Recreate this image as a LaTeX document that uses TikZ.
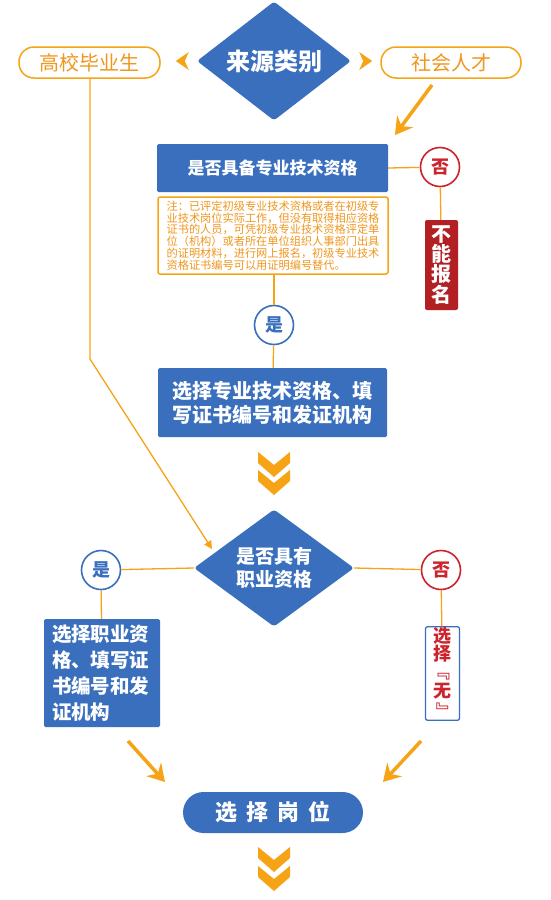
\documentclass[tikz,border=0pt]{standalone}
\usepackage{fontspec}
\setmainfont{Noto Sans CJK SC}
\usetikzlibrary{shapes.geometric,arrows.meta}
\definecolor{bl}{RGB}{58,111,190}
\definecolor{og}{RGB}{246,163,22}
\definecolor{ogt}{RGB}{240,150,30}
\definecolor{rd}{RGB}{205,35,45}
\definecolor{drd}{RGB}{178,32,36}
\begin{document}
\begin{tikzpicture}[x=1pt,y=-1pt,
  dia/.style={diamond,fill=bl,text=white,inner sep=0pt,rounded corners=3pt,align=center},
  pill/.style={draw=og,line width=1.5pt,fill=white,rounded corners=15pt,minimum height=31pt,text=ogt,font=\fontsize{20}{24}\selectfont},
  bbox/.style={fill=bl,text=white,rounded corners=1.5pt,inner sep=0pt},
  circ/.style={circle,draw,line width=1.6pt,fill=white,minimum size=39pt,inner sep=0pt,font=\fontsize{18}{20}\selectfont\bfseries},
  thinline/.style={draw=og,line width=1.3pt},
  thickarrow/.style={draw=og,line width=3.5pt,-{Stealth[length=17pt,width=20pt,inset=6pt]}},
  chev/.pic={\fill[og] (-16,0) -- (0,13) -- (16,0) -- (16,11) -- (0,25) -- (-16,11) -- cycle;}
]
\useasboundingbox (0,0) rectangle (550,900);
\fill[white] (0,0) rectangle (550,900);

% top row
\node[dia,minimum width=154pt,minimum height=108pt,font=\fontsize{24}{26}\selectfont\bfseries] (src) at (274,61) {来源类别};
\node[pill,minimum width=141pt] (gx) at (89.5,62.5) {高校毕业生};
\node[pill,minimum width=140pt] (sh) at (451,62.5) {社会人才};
\fill[og] ([xshift=-21pt]src.west) -- ([xshift=-8pt,yshift=9pt]src.west) -- ([xshift=-12pt]src.west) -- ([xshift=-8pt,yshift=-9pt]src.west) -- cycle;
\fill[og] ([xshift=21pt]src.east) -- ([xshift=8pt,yshift=9pt]src.east) -- ([xshift=12pt]src.east) -- ([xshift=8pt,yshift=-9pt]src.east) -- cycle;

% social branch arrow
\coordinate (sa) at (432,85);
\coordinate (sb) at (395,135);
\draw[thickarrow] (sa) -- (sb);

% first question
\node[bbox,minimum width=231pt,minimum height=48pt,font=\fontsize{17}{20}\selectfont\bfseries] (q1) at (272.5,168) {是否具备专业技术资格};
\node[draw=og,line width=1.5pt,fill=white,rounded corners=2pt,minimum width=230pt,minimum height=77pt,inner sep=0pt,text=ogt,align=left,font=\fontsize{11.2}{11.8}\selectfont] (note) at (273,235.5) {注：已评定初级专业技术资格或者在初级专\\业技术岗位实际工作，但没有取得相应资格\\证书的人员，可凭初级专业技术资格评定单\\位（机构）或者所在单位组织人事部门出具\\的证明材料，进行网上报名，初级专业技术\\资格证书编号可以用证明编号替代。};
\node[circ,draw=rd,text=rd] (n1) at (440,167) {否};
\node[fill=drd,text=white,rounded corners=2pt,minimum width=33pt,minimum height=90pt,inner sep=0pt,align=center,font=\fontsize{20}{18.5}\selectfont\bfseries] (nobox) at (441.5,265) {不\\能\\报\\名};
\draw[thinline] (q1.east) -- (n1);
\draw[thinline] (n1) -- (nobox);

\node[circ,draw=bl,text=bl] (y1) at (274,325) {是};
\node[bbox,minimum width=229pt,minimum height=69pt,align=center,font=\fontsize{20}{24}\selectfont\bfseries] (b2) at (272.5,402.5) {选择专业技术资格、填\\写证书编号和发证机构};
\draw[thinline] (note.south -| y1) -- (y1);
\draw[thinline] (y1) -- (b2);

\pic at (274,452) {chev};
\pic at (274,470) {chev};

% second question
\node[dia,minimum width=160pt,minimum height=110pt,font=\fontsize{19}{23}\selectfont\bfseries] (dq) at (274,568) {是否具有\\职业资格};
\coordinate (bend) at (90,359);
\coordinate (tipq) at (212,549);
\draw[thinline,-{Triangle[length=8pt,width=8pt]}] (gx.south -| bend) -- (bend) -- (tipq);

\node[circ,draw=bl,text=bl] (y2) at (101,570) {是};
\node[circ,draw=rd,text=rd] (n2) at (441,570) {否};
\draw[thinline] (dq.west) -- (y2);
\draw[thinline] (dq.east) -- (n2);

\node[bbox,minimum width=116pt,minimum height=108pt,align=left,text width=100pt,font=\fontsize{19.5}{26}\selectfont\bfseries] (lb) at (102,673) {选择职业资\\格、填写证\\书编号和发\\证机构};
\node[draw=bl,line width=1.3pt,fill=white,rounded corners=2pt,minimum width=34pt,minimum height=93pt,inner sep=0pt,text=rd,align=center,font=\fontsize{18}{18}\selectfont\bfseries] (rb) at (442.5,673.5) {选\\择\\\rotatebox[origin=c]{-90}{『}\\无\\\rotatebox[origin=c]{-90}{』}};
\draw[thinline] (y2) -- (lb);
\draw[thinline] (n2) -- (rb);

% final
\coordinate (la) at (128,741);
\coordinate (lz) at (165,782);
\coordinate (ra) at (421,741);
\coordinate (rz) at (383,782);
\draw[thickarrow] (la) -- (lz);
\draw[thickarrow] (ra) -- (rz);

\node[bbox,rounded corners=20.5pt,minimum width=180pt,minimum height=41pt,font=\fontsize{22}{24}\selectfont\bfseries] (pos) at (273,812.5) {选\hspace{9pt}择\hspace{9pt}岗\hspace{9pt}位};

\pic at (274,847) {chev};
\pic at (274,866) {chev};
\end{tikzpicture}
\end{document}
